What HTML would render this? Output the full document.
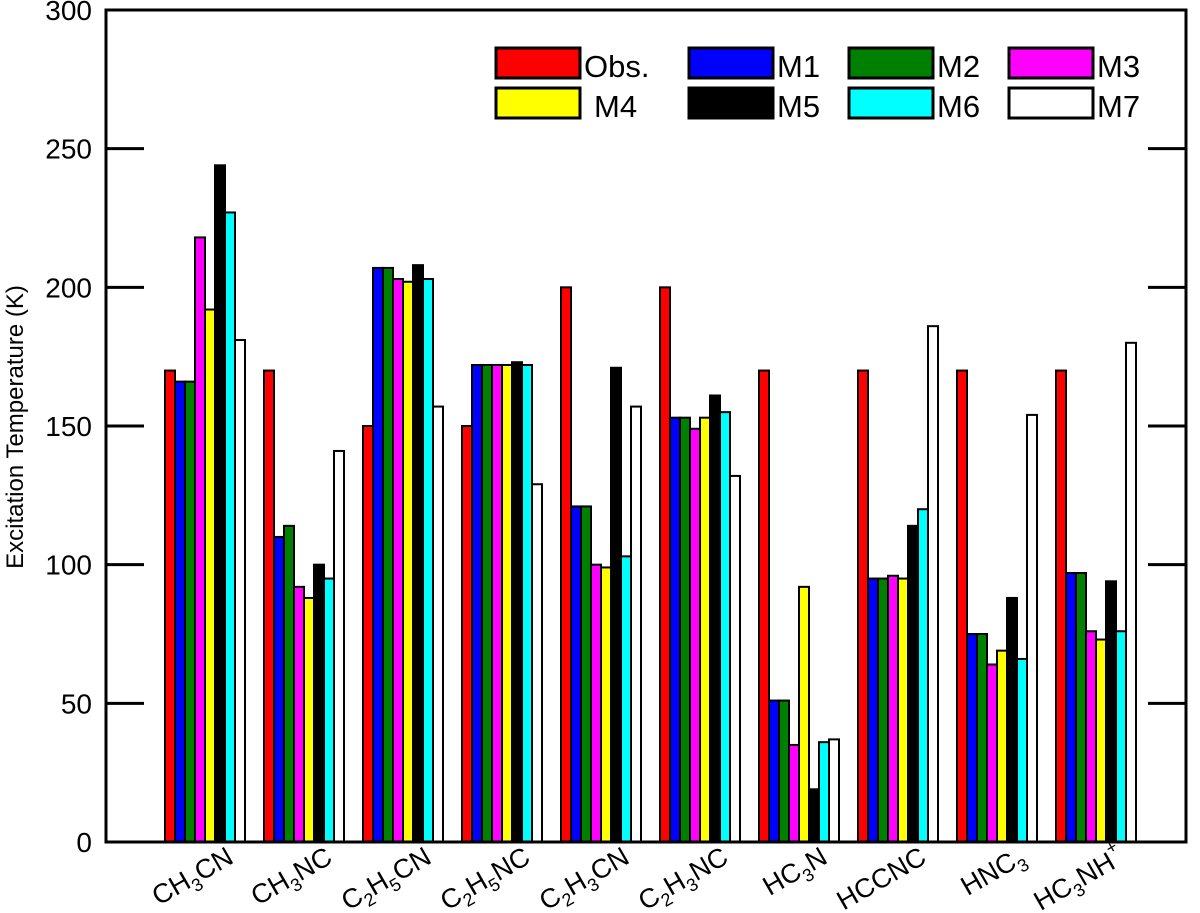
<!DOCTYPE html>
<html><head><meta charset="utf-8"><style>
body{margin:0;background:#fff}
svg{display:block;font-family:"Liberation Sans",sans-serif}
</style></head><body>
<svg id="c" width="1200" height="913"></svg>
<script>
const categories=[["CH","3","CN",""],["CH","3","NC",""],["C","2","H","5","CN"],["C","2","H","5","NC"],["C","2","H","3","CN"],["C","2","H","3","NC"],["HC","3","N",""],["HCCNC"],["HNC","3"],["HC","3","NH","+"]];
const categoryNames=["CH3CN","CH3NC","C2H5CN","C2H5NC","C2H3CN","C2H3NC","HC3N","HCCNC","HNC3","HC3NH+"];
const seriesNames=["Obs.","M1","M2","M3","M4","M5","M6","M7"];
const obs=[170,170,150,150,200,200,170,170,170,170];
const m1=[166,110,207,172,121,153,51,95,75,97];
const m2=[166,114,207,172,121,153,51,95,75,97];
const m3=[218,92,203,172,100,149,35,96,64,76];
const m4=[192,88,202,172,99,153,92,95,69,73];
const m5=[244,100,208,173,171,161,19,114,88,94];
const m6=[227,95,203,172,103,155,36,120,66,76];
const m7=[181,141,157,129,157,132,37,186,154,180];
const yTicks=[0,50,100,150,200,250,300];
const series=[obs,m1,m2,m3,m4,m5,m6,m7];
const colors=["#ff0000","#0000ff","#008000","#ff00ff","#ffff00","#000000","#00ffff","#ffffff"];
const NS="http://www.w3.org/2000/svg";
const svg=document.getElementById('c');
const L=106,R=1186,T=10,B=842;
function y(v){return B-(v/300)*(B-T);}
function x(ci,si){return 165+ci*99+si*10;}
function mk(t,a,p){const e=document.createElementNS(NS,t);for(const k in a)e.setAttribute(k,a[k]);(p||svg).appendChild(e);return e;}
series.forEach((s,si)=>{s.forEach((v,ci)=>{
 const r=mk('rect',{x:x(ci,si),y:y(v),width:10,height:B-y(v),fill:colors[si],stroke:'#000','stroke-width':2});
 
 
});});
const f=mk('rect',{x:L,y:T,width:R-L,height:B-T,fill:'none',stroke:'#000','stroke-width':3});


yTicks.forEach(t=>{
 const g=mk('g',{});
 
 
 mk('line',{x1:L,x2:L+38,y1:y(t),y2:y(t),stroke:'#000','stroke-width':3},g);
 mk('line',{x1:R-38,x2:R,y1:y(t),y2:y(t),stroke:'#000','stroke-width':3},g);
 const tx=mk('text',{x:92,y:y(t)+10,'text-anchor':'end','font-size':28},g);
 tx.textContent=t;
});
const yl=mk('text',{x:0,y:0,transform:'translate(23,427) rotate(-90)','text-anchor':'middle','font-size':24});
yl.textContent='Excitation Temperature (K)';


categories.forEach((parts,ci)=>{
 const cx=x(ci,0)+40;
 const t=mk('text',{x:0,y:0,transform:`translate(${cx+30},${862}) rotate(-30)`,'text-anchor':'end','font-size':27});
 
 
 parts.forEach((p,i)=>{
  if(!p)return;
  const ts=mk('tspan',{},t);
  const sub=/^\d$/.test(p), sup=p==='+';
  if(sub){ts.setAttribute('font-size',18);ts.setAttribute('dy',7);}
  else if(sup){ts.setAttribute('font-size',18);ts.setAttribute('dy',-14);}
  else if(i>0&&/^\d$/.test(parts[i-1])){ts.setAttribute('dy',-7);}
  ts.textContent=p;
 });
});
const lx=[496,689,849,1009], ly=[48,88];
seriesNames.forEach((n,i)=>{
 const col=i%4,row=Math.floor(i/4);
 const g=mk('g',{});
 
 
 mk('rect',{x:lx[col],y:ly[row],width:84,height:30,fill:colors[i],stroke:'#000','stroke-width':3},g);
 const t=mk('text',{x:lx[col]+(i===4?98:88),y:ly[row]+29,'font-size':31},g);
 t.textContent=n;
});
</script>
</body></html>
